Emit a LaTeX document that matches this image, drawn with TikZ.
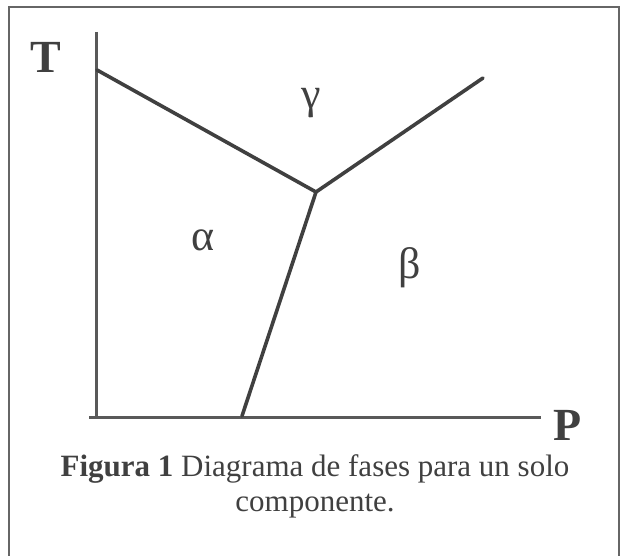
\documentclass[tikz,border=0pt]{standalone}
\usepackage{fontspec}
\setmainfont{Liberation Serif}
\begin{document}
\begin{tikzpicture}[x=1pt,y=-1pt,
  frame/.style={draw=black!60,line width=2.5pt},
  axis/.style={draw=black!65,line width=3pt},
  boundary/.style={draw=black!75,line width=3.6pt,line cap=round},
  axlabel/.style={font=\fontsize{46}{50}\selectfont\bfseries,text=black!75,inner sep=0pt},
  phase/.style={font=\fontsize{44}{48}\selectfont,text=black!75,inner sep=0pt},
  caption/.style={font=\fontsize{31}{35}\selectfont,text=black!75,inner sep=0pt,align=center}]
\useasboundingbox (0,0) rectangle (626,556);
% frame (bottom edge outside the picture)
\draw[frame] (9,560) -- (9,7) -- (619,7) -- (619,560);
% axes
\coordinate (origin) at (96,417);
\coordinate (ytop) at (96,32);
\coordinate (xleft) at (89,417);
\coordinate (xright) at (541,417);
\draw[axis] (ytop) -- (origin |- xleft) ;
\draw[axis] (xleft) -- (xright);
% phase boundaries
\coordinate (tp) at (316,192);
\coordinate (a) at (97,70);
\coordinate (b) at (483,78);
\coordinate (c) at (242,416);
\draw[boundary] (a) -- (tp) -- (b);
\draw[boundary] (tp) -- (c);
% labels
\node[axlabel] (T) at (46,57) {T};
\node[axlabel] (P) at (568,425) {P};
\node[phase] (gamma) at (311,103) {γ};
\node[phase] (alpha) at (203,240) {α};
\node[phase] (beta) at (410,268) {β};
\node[caption] (cap) at (315,486) {\textbf{Figura 1} Diagrama de fases para un solo\\componente.};
\end{tikzpicture}
\end{document}
